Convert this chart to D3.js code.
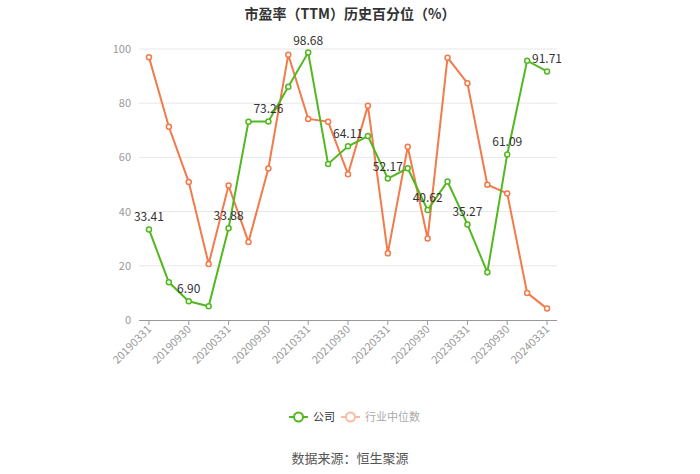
<!DOCTYPE html>
<html><head><meta charset="utf-8">
<script src="https://cdn.jsdelivr.net/npm/d3@7/dist/d3.min.js"></script>
<style>body{margin:0;background:#fff;font-family:"Noto Sans CJK SC","Noto Sans",sans-serif;}</style>
</head><body><svg id="c" width="700" height="474"></svg>
<script>
const categories = ["20190331","20190630","20190930","20191231","20200331","20200630","20200930","20201231","20210331","20210630","20210930","20211231","20220331","20220630","20220930","20221231","20230331","20230630","20230930","20231231","20240331"];
const companyValues = [33.41,13.9,6.90,5.1,33.88,73.2,73.26,86.1,98.68,57.6,64.11,67.9,52.17,56.0,40.62,51.1,35.27,17.6,61.09,95.7,91.71];
const industryValues = [97.0,71.3,50.9,20.7,49.6,28.8,55.9,97.9,74.2,73.2,53.8,79.1,24.6,63.9,30.1,96.8,87.4,49.9,46.7,10.0,4.2];
const yTicks = [0,20,40,60,80,100];
const seriesNames = ["公司","行业中位数"];

const green = "#52b81f", orange = "#f27a4b";
const svg = d3.select("#c");
const x = d3.scaleBand().domain(categories).range([139,557]);
const y = d3.scaleLinear().domain([0,100]).range([320,49]);
const cx = d => x(d) + x.bandwidth()/2;

svg.append("text").attr("x",350).attr("y",19).attr("text-anchor","middle")
  .attr("font-size",14).attr("font-weight","bold").attr("fill","#333")
  .text("市盈率（TTM）历史百分位（%）");

// grid
svg.append("g").selectAll("line").data(yTicks.filter(t=>t>0)).join("line")
  .attr("x1",139).attr("x2",557).attr("y1",d=>y(d)).attr("y2",d=>y(d))
  .attr("stroke","#e8e8e8").attr("stroke-width",1);
svg.append("g").selectAll("text").data(yTicks).join("text")
  .attr("x",131).attr("y",d=>y(d)+4).attr("text-anchor","end")
  .attr("font-size",11).attr("fill","#999").text(d=>d);

// x axis
svg.append("line").attr("x1",139).attr("x2",557).attr("y1",320.5).attr("y2",320.5).attr("stroke","#999");
const labeled = categories.filter((d,i)=>i%2===0);
svg.append("g").selectAll("line").data(labeled).join("line")
  .attr("x1",d=>cx(d)).attr("x2",d=>cx(d)).attr("y1",320).attr("y2",325).attr("stroke","#999");
svg.append("g").selectAll("text").data(labeled).join("text")
  .attr("transform",d=>`translate(${cx(d)+3},${330}) rotate(-45)`)
  .attr("text-anchor","end").attr("font-size",11).attr("fill","#999").text(d=>d);

function drawSeries(vals,color){
  const line = d3.line().x((d,i)=>cx(categories[i])).y(d=>y(d));
  svg.append("path").datum(vals).attr("d",line).attr("fill","none").attr("stroke",color).attr("stroke-width",2);
  svg.append("g").selectAll("circle").data(vals).join("circle")
    .attr("cx",(d,i)=>cx(categories[i])).attr("cy",d=>y(d)).attr("r",2.5)
    .attr("fill","#fff").attr("stroke",color).attr("stroke-width",1.5);
}
drawSeries(industryValues,orange);
drawSeries(companyValues,green);

svg.append("g").selectAll("text").data(companyValues.map((v,i)=>({v,i})).filter(d=>d.i%2===0)).join("text")
  .attr("x",d=>cx(categories[d.i])).attr("y",d=>y(d.v)-8).attr("text-anchor","middle")
  .attr("font-size",12).attr("fill","#333").text(d=>d.v.toFixed(2));

// legend
const lg = svg.append("g");
const items = [{n:seriesNames[0],c:green,x:289,op:1,tc:"#333"},{n:seriesNames[1],c:orange,x:341,op:0.5,tc:"#999"}];
items.forEach(it=>{
  const g = lg.append("g").attr("opacity",it.op);
  g.append("line").attr("x1",it.x).attr("x2",it.x+19).attr("y1",417).attr("y2",417).attr("stroke",it.c).attr("stroke-width",2);
  g.append("circle").attr("cx",it.x+9.5).attr("cy",417).attr("r",4.5).attr("fill","#fff").attr("stroke",it.c).attr("stroke-width",2);
});
lg.append("text").attr("x",313).attr("y",421).attr("font-size",11).attr("fill","#333").text(seriesNames[0]);
lg.append("text").attr("x",365).attr("y",421).attr("font-size",11).attr("fill","#aaa").text(seriesNames[1]);

svg.append("text").attr("x",350).attr("y",463).attr("text-anchor","middle")
  .attr("font-size",13).attr("fill","#555").text("数据来源：恒生聚源");
</script></body></html>
